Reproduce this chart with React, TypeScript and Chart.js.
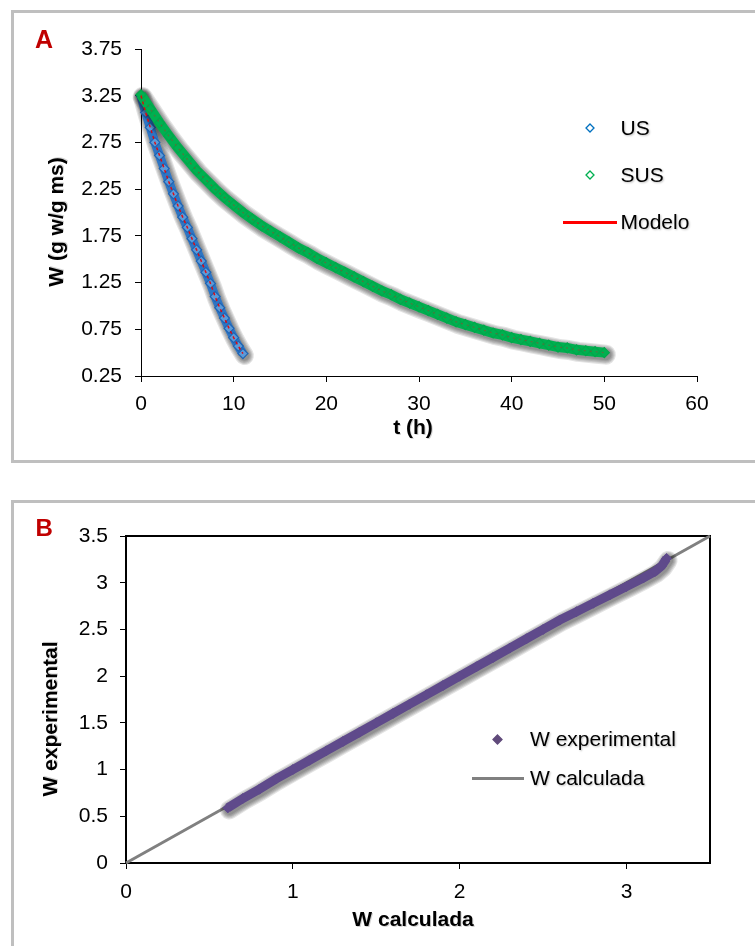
import React, { useEffect, useRef } from 'react';
import { Chart, registerables } from 'chart.js';

Chart.register(...registerables);

// ---------- Data: chart A (drying curves) ----------
const usT = [0, 0.5, 1, 1.5, 2, 2.5, 3, 3.5, 4, 4.5, 5, 5.5, 6, 6.5, 7, 7.5, 8, 8.5, 9, 9.5, 10, 10.5, 11];
const usW = [3.25, 3.07, 2.91, 2.75, 2.61, 2.47, 2.33, 2.2, 2.07, 1.95, 1.84, 1.72, 1.6, 1.48, 1.36, 1.24, 1.1, 0.98, 0.87, 0.76, 0.66, 0.57, 0.49];

const susT = [0, 1, 2, 3, 4, 5, 6, 7, 8, 9, 10, 11, 12, 13, 14, 15, 16, 17, 18, 19, 20, 21, 22, 23, 24, 25, 26, 27, 28, 29, 30, 31, 32, 33, 34, 35, 36, 37, 38, 39, 40, 41, 42, 43, 44, 45, 46, 47, 48, 49, 50];
const susW = [3.26, 3.11, 2.96, 2.82, 2.69, 2.57, 2.45, 2.35, 2.25, 2.16, 2.08, 2.0, 1.93, 1.86, 1.8, 1.74, 1.68, 1.62, 1.57, 1.51, 1.46, 1.41, 1.36, 1.31, 1.26, 1.21, 1.16, 1.12, 1.07, 1.03, 0.99, 0.95, 0.91, 0.87, 0.83, 0.8, 0.77, 0.74, 0.71, 0.69, 0.66, 0.64, 0.62, 0.6, 0.58, 0.56, 0.55, 0.53, 0.52, 0.51, 0.5];

const modeloUsW = [3.25, 3.07, 2.91, 2.75, 2.61, 2.47, 2.33, 2.2, 2.07, 1.95, 1.84, 1.72, 1.6, 1.48, 1.36, 1.24, 1.1, 0.98, 0.87, 0.76, 0.66, 0.57, 0.49];
const modeloSusW = [3.26, 3.11, 2.96, 2.82, 2.69, 2.57, 2.45, 2.35, 2.25, 2.16, 2.08, 2.0, 1.93, 1.86, 1.8, 1.74, 1.68, 1.62, 1.57, 1.51, 1.46, 1.41, 1.36, 1.31, 1.26, 1.21, 1.16, 1.12, 1.07, 1.03, 0.99, 0.95, 0.91, 0.87, 0.83, 0.8, 0.77, 0.74, 0.71, 0.69, 0.66, 0.64, 0.62, 0.6, 0.58, 0.56, 0.55, 0.53, 0.52, 0.51, 0.5];

const aXTicks = [0, 10, 20, 30, 40, 50, 60];
const aYTicks = [0.25, 0.75, 1.25, 1.75, 2.25, 2.75, 3.25, 3.75];

// ---------- Data: chart B (experimental vs calculated) ----------
const wCalculada = [0.61, 0.7, 0.8, 0.9, 1.0, 1.1, 1.2, 1.3, 1.4, 1.5, 1.6, 1.7, 1.8, 1.9, 2.0, 2.1, 2.2, 2.3, 2.4, 2.5, 2.6, 2.7, 2.8, 2.9, 3.0, 3.1, 3.17, 3.21, 3.24];
const wExperimental = [0.59, 0.69, 0.79, 0.9, 1.0, 1.1, 1.2, 1.3, 1.4, 1.5, 1.6, 1.7, 1.8, 1.9, 2.0, 2.1, 2.2, 2.3, 2.4, 2.5, 2.6, 2.69, 2.78, 2.87, 2.96, 3.05, 3.12, 3.18, 3.26];
const lineCalcX = [0, 3.5];
const lineCalcY = [0, 3.5];

const bXTicks = [0, 1, 2, 3];
const bYTicks = [0, 0.5, 1, 1.5, 2, 2.5, 3, 3.5];

const FONT = '"Liberation Sans", Arial, Helvetica, sans-serif';

const toPts = (xs: number[], ys: number[]) => xs.map((x, i) => ({ x, y: ys[i] }));

// Soft drop-shadow halo under datasets flagged with bandShadow, built from
// layered translucent strokes along the dataset's own point positions.
const shadowPlugin = {
  id: 'bandShadow',
  beforeDatasetDraw(chart: any, args: any) {
    const ds = chart.data.datasets[args.index];
    if (!ds || !ds.bandShadow) return;
    const pts = args.meta.data;
    if (!pts || !pts.length) return;
    const ctx = chart.ctx;
    ctx.save();
    ctx.translate(1.5, 2);
    ctx.lineCap = 'round';
    ctx.lineJoin = 'round';
    for (let k = 5; k >= 1; k--) {
      ctx.beginPath();
      pts.forEach((p: any, i: number) => {
        if (i === 0) ctx.moveTo(p.x, p.y);
        else ctx.lineTo(p.x, p.y);
      });
      ctx.lineWidth = ds.bandShadow + 2.2 * k;
      ctx.strokeStyle = 'rgba(0,0,0,0.11)';
      ctx.stroke();
    }
    ctx.restore();
  },
};

const framePlugin = {
  id: 'frameBox',
  beforeDatasetsDraw(chart: any, _args: any, opts: any) {
    if (!opts || !opts.enabled) return;
    const { left, top, right, bottom } = chart.chartArea;
    const ctx = chart.ctx;
    ctx.save();
    ctx.strokeStyle = '#000';
    ctx.lineWidth = 2;
    ctx.strokeRect(left, top, right - left, bottom - top);
    ctx.restore();
  },
};

type TitleItem = { text: string; x: number; y: number; rot?: boolean };
function makeTitlePlugin(items: TitleItem[]) {
  return {
    id: 'axisTitles',
    afterDraw(chart: any) {
      const ctx = chart.ctx;
      items.forEach((it) => {
        ctx.save();
        ctx.font = `bold 21px ${FONT}`;
        ctx.textAlign = 'center';
        ctx.textBaseline = 'middle';
        ctx.translate(it.x, it.y);
        if (it.rot) ctx.rotate(-Math.PI / 2);
        ctx.fillStyle = 'rgba(0,0,0,0.18)';
        ctx.fillText(it.text, 1, 1);
        ctx.fillStyle = '#000';
        ctx.fillText(it.text, 0, 0);
        ctx.restore();
      });
    },
  };
}

function axis(opts: any) {
  const { min, max, ticks, size, isX, tickPad, borderW, fmt } = opts;
  return {
    type: 'linear',
    min,
    max,
    afterBuildTicks: (s: any) => {
      s.ticks = ticks.map((v: number) => ({ value: v }));
    },
    afterFit: (s: any) => {
      if (isX) s.height = size;
      else s.width = size;
    },
    border: { display: true, color: '#000', width: borderW },
    grid: { display: true, drawOnChartArea: false, drawTicks: true, tickLength: 6, tickColor: '#000', tickWidth: 1, color: '#000' },
    ticks: {
      color: '#000',
      font: { family: FONT, size: 21 },
      padding: tickPad,
      autoSkip: false,
      maxRotation: 0,
      callback: (v: any) => fmt(Number(v)),
    },
    title: { display: false },
  };
}

export default function App() {
  const aRef = useRef<HTMLCanvasElement | null>(null);
  const bRef = useRef<HTMLCanvasElement | null>(null);

  useEffect(() => {
    const chartA = new Chart(aRef.current as HTMLCanvasElement, {
      type: 'scatter',
      data: {
        datasets: [
          {
            label: 'Modelo',
            data: toPts(usT, modeloUsW),
            showLine: true,
            borderColor: 'rgba(235,0,0,0.9)',
            borderWidth: 1.5,
            borderDash: [3, 3],
            pointRadius: 0,
            clip: false,
          },
          {
            label: 'Modelo SUS',
            data: toPts(susT, modeloSusW),
            showLine: true,
            borderColor: 'rgba(190,40,40,0.45)',
            borderWidth: 1.2,
            borderDash: [2, 4],
            pointRadius: 0,
            clip: false,
          },
          {
            label: 'SUS',
            data: toPts(susT, susW),
            showLine: true,
            borderColor: '#00B050',
            borderWidth: 10,
            pointStyle: 'rectRot',
            pointRadius: 5,
            pointBorderColor: '#00A84B',
            pointBackgroundColor: '#00B050',
            pointBorderWidth: 1.2,
            bandShadow: 9,
            clip: false,
          } as any,
          {
            label: 'US',
            data: toPts(usT, usW),
            showLine: true,
            borderColor: '#2E75C4',
            borderWidth: 9,
            pointStyle: 'rectRot',
            pointRadius: 5,
            pointBorderColor: '#1E64B4',
            pointBackgroundColor: '#5C9AD8',
            pointBorderWidth: 1.2,
            bandShadow: 8,
            clip: false,
          } as any,
        ],
      },
      options: {
        responsive: false,
        animation: false,
        events: [],
        layout: { padding: { left: 0, top: 49, right: 58, bottom: 24 } },
        plugins: { legend: { display: false }, tooltip: { enabled: false } },
        scales: {
          x: axis({ min: 0, max: 60, ticks: aXTicks, size: 70, isX: true, tickPad: 10, borderW: 1, fmt: (v: number) => String(v) }),
          y: axis({ min: 0.25, max: 3.75, ticks: aYTicks, size: 141, isX: false, tickPad: 13, borderW: 1, fmt: (v: number) => v.toFixed(2) }),
        } as any,
      },
      plugins: [
        shadowPlugin as any,
        makeTitlePlugin([
          { text: 't (h)', x: 413, y: 428 },
          { text: 'W (g w/g ms)', x: 57, y: 222, rot: true },
        ]) as any,
      ],
    });

    const chartB = new Chart(bRef.current as HTMLCanvasElement, {
      type: 'scatter',
      data: {
        datasets: [
          {
            label: 'W experimental',
            data: toPts(wCalculada, wExperimental),
            showLine: true,
            borderColor: '#5F4A8B',
            borderWidth: 9,
            pointStyle: 'rectRot',
            pointRadius: 5,
            pointBorderColor: '#5F4A8B',
            pointBackgroundColor: '#5F4A8B',
            pointBorderWidth: 1,
            bandShadow: 8,
            clip: false,
          } as any,
          {
            label: 'W calculada',
            data: toPts(lineCalcX, lineCalcY),
            showLine: true,
            borderColor: '#808080',
            borderWidth: 3,
            pointRadius: 0,
            clip: false,
          },
        ],
      },
      options: {
        responsive: false,
        animation: false,
        events: [],
        layout: { padding: { left: 0, top: 56, right: 45, bottom: 13 } },
        plugins: { legend: { display: false }, tooltip: { enabled: false }, frameBox: { enabled: true } } as any,
        scales: {
          x: axis({ min: 0, max: 3.5, ticks: bXTicks, size: 70, isX: true, tickPad: 11, borderW: 2, fmt: (v: number) => String(v) }),
          y: axis({ min: 0, max: 3.5, ticks: bYTicks, size: 126, isX: false, tickPad: 12, borderW: 2, fmt: (v: number) => String(v) }),
        } as any,
      },
      plugins: [
        shadowPlugin as any,
        framePlugin as any,
        makeTitlePlugin([
          { text: 'W calculada', x: 413, y: 440 },
          { text: 'W experimental', x: 51, y: 239, rot: true },
        ]) as any,
      ],
    });

    return () => {
      chartA.destroy();
      chartB.destroy();
    };
  }, []);

  const txt = (extra: any): any => ({
    position: 'absolute',
    fontFamily: FONT,
    fontSize: 21,
    lineHeight: '21px',
    color: '#000',
    whiteSpace: 'nowrap',
    textShadow: '1px 1px 2px rgba(0,0,0,0.25)',
    ...extra,
  });

  const diamond = (cx: number, cy: number, r: number, stroke: string, fill: string) => (
    <svg
      style={{ position: 'absolute', left: cx - r - 2, top: cy - r - 2, overflow: 'visible' }}
      width={2 * r + 4}
      height={2 * r + 4}
    >
      <polygon
        points={`${r + 2},2 ${2 * r + 2},${r + 2} ${r + 2},${2 * r + 2} 2,${r + 2}`}
        fill={fill}
        stroke={stroke}
        strokeWidth={1.3}
      />
    </svg>
  );

  return (
    <div style={{ position: 'absolute', left: 0, top: 0, width: 755, height: 946, overflow: 'hidden', background: '#fff' }}>
      <div style={{ position: 'absolute', left: 11, top: 10, width: 770, height: 453, border: '3px solid #BFBFBF', boxSizing: 'border-box' }} />
      <div style={{ position: 'absolute', left: 11, top: 500, width: 770, height: 470, border: '3px solid #BFBFBF', boxSizing: 'border-box' }} />
      <canvas ref={aRef} width={755} height={470} style={{ position: 'absolute', left: 0, top: 0, width: 755, height: 470 }} />
      <canvas ref={bRef} width={755} height={466} style={{ position: 'absolute', left: 0, top: 480, width: 755, height: 466 }} />

      <div style={txt({ left: 35, top: 27, fontSize: 25, lineHeight: '25px', fontWeight: 'bold', color: '#C00000', textShadow: 'none' })}>A</div>
      <div style={txt({ left: 35.5, top: 516, fontSize: 24, lineHeight: '24px', fontWeight: 'bold', color: '#C00000', textShadow: 'none' })}>B</div>

      {diamond(590, 128, 4, '#0070C0', '#fff')}
      <div style={txt({ left: 620.5, top: 117.25 })}>US</div>
      {diamond(590, 175, 4, '#00B050', '#fff')}
      <div style={txt({ left: 620.5, top: 164.45 })}>SUS</div>
      <div style={{ position: 'absolute', left: 563, top: 220.5, width: 54, height: 3, background: '#FF0000' }} />
      <div style={txt({ left: 620.5, top: 211.45 })}>Modelo</div>

      {diamond(497, 739, 4.5, '#604A7B', '#604A7B')}
      <div style={txt({ left: 530, top: 728.45 })}>W experimental</div>
      <div style={{ position: 'absolute', left: 472, top: 776.5, width: 52, height: 3, background: '#808080' }} />
      <div style={txt({ left: 530, top: 766.95 })}>W calculada</div>
    </div>
  );
}
